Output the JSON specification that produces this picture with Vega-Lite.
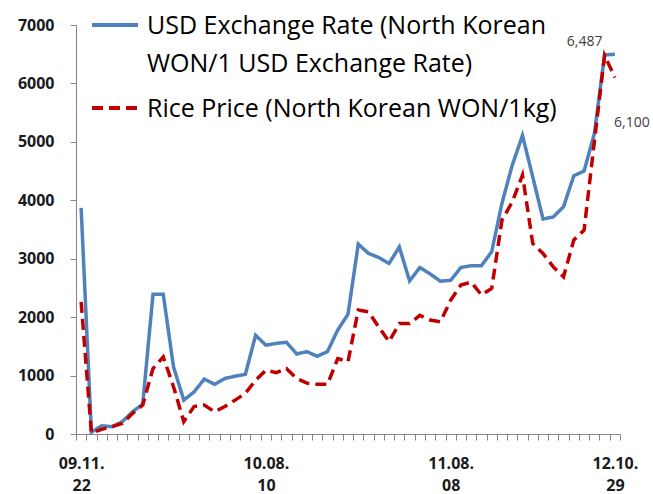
{
  "$schema": "https://vega.github.io/schema/vega-lite/v6.json",
  "width": 544,
  "height": 409,
  "autosize": {"type": "none"},
  "padding": {"left": 76, "top": 25, "right": 33, "bottom": 60},
  "background": "white",
  "config": {
    "view": {"stroke": null},
    "axis": {
      "labelFont": "Open Sans",
      "labelFontWeight": "bold",
      "labelFontSize": 16,
      "labelColor": "#1a1a1a",
      "domainColor": "#868686",
      "tickColor": "#868686",
      "grid": false
    }
  },
  "layer": [
    {
      "data": {
        "values": [
          {"i": 0, "usd": 3870, "rice": 2260},
          {"i": 1, "usd": 30, "rice": 20},
          {"i": 2, "usd": 140, "rice": 80},
          {"i": 3, "usd": 125, "rice": 125},
          {"i": 4, "usd": 210, "rice": 180},
          {"i": 5, "usd": 380, "rice": 350},
          {"i": 6, "usd": 510, "rice": 495},
          {"i": 7, "usd": 2390, "rice": 1120},
          {"i": 8, "usd": 2390, "rice": 1320},
          {"i": 9, "usd": 1150, "rice": 810},
          {"i": 10, "usd": 580, "rice": 210},
          {"i": 11, "usd": 720, "rice": 470},
          {"i": 12, "usd": 940, "rice": 495},
          {"i": 13, "usd": 850, "rice": 380},
          {"i": 14, "usd": 950, "rice": 470},
          {"i": 15, "usd": 990, "rice": 580},
          {"i": 16, "usd": 1020, "rice": 695},
          {"i": 17, "usd": 1690, "rice": 920},
          {"i": 18, "usd": 1520, "rice": 1090},
          {"i": 19, "usd": 1550, "rice": 1050},
          {"i": 20, "usd": 1570, "rice": 1120},
          {"i": 21, "usd": 1370, "rice": 950},
          {"i": 22, "usd": 1410, "rice": 870},
          {"i": 23, "usd": 1330, "rice": 850},
          {"i": 24, "usd": 1410, "rice": 850},
          {"i": 25, "usd": 1780, "rice": 1290},
          {"i": 26, "usd": 2050, "rice": 1240},
          {"i": 27, "usd": 3250, "rice": 2120},
          {"i": 28, "usd": 3090, "rice": 2090},
          {"i": 29, "usd": 3020, "rice": 1830},
          {"i": 30, "usd": 2920, "rice": 1580},
          {"i": 31, "usd": 3200, "rice": 1890},
          {"i": 32, "usd": 2620, "rice": 1890},
          {"i": 33, "usd": 2850, "rice": 2030},
          {"i": 34, "usd": 2740, "rice": 1950},
          {"i": 35, "usd": 2615, "rice": 1920},
          {"i": 36, "usd": 2630, "rice": 2290},
          {"i": 37, "usd": 2850, "rice": 2550},
          {"i": 38, "usd": 2880, "rice": 2600},
          {"i": 39, "usd": 2880, "rice": 2380},
          {"i": 40, "usd": 3120, "rice": 2490},
          {"i": 41, "usd": 3950, "rice": 3660},
          {"i": 42, "usd": 4600, "rice": 3970},
          {"i": 43, "usd": 5110, "rice": 4430},
          {"i": 44, "usd": 4400, "rice": 3260},
          {"i": 45, "usd": 3680, "rice": 3090},
          {"i": 46, "usd": 3715, "rice": 2860},
          {"i": 47, "usd": 3890, "rice": 2690},
          {"i": 48, "usd": 4420, "rice": 3320},
          {"i": 49, "usd": 4500, "rice": 3490},
          {"i": 50, "usd": 5140, "rice": 5000},
          {"i": 51, "usd": 6487, "rice": 6480},
          {"i": 52, "usd": 6500, "rice": 6100}
        ]
      },
      "transform": [{"fold": ["usd", "rice"], "as": ["series", "value"]}],
      "mark": {"type": "line", "strokeWidth": 3.5},
      "encoding": {
        "x": {
          "field": "i",
          "type": "quantitative",
          "title": null,
          "scale": {"domain": [-0.5, 52.5], "nice": false, "zero": false},
          "axis": {
            "orient": "bottom",
            "values": [-0.5, 0.5, 1.5, 2.5, 3.5, 4.5, 5.5, 6.5, 7.5, 8.5, 9.5, 10.5, 11.5, 12.5, 13.5, 14.5, 15.5, 16.5, 17.5, 18.5, 19.5, 20.5, 21.5, 22.5, 23.5, 24.5, 25.5, 26.5, 27.5, 28.5, 29.5, 30.5, 31.5, 32.5, 33.5, 34.5, 35.5, 36.5, 37.5, 38.5, 39.5, 40.5, 41.5, 42.5, 43.5, 44.5, 45.5, 46.5, 47.5, 48.5, 49.5, 50.5, 51.5, 52.5],
            "labels": false,
            "tickSize": 6
          }
        },
        "y": {
          "field": "value",
          "type": "quantitative",
          "title": null,
          "scale": {"domain": [0, 7000], "nice": false},
          "axis": {
            "values": [0, 1000, 2000, 3000, 4000, 5000, 6000, 7000],
            "format": "d",
            "tickSize": 6,
            "labelPadding": 16
          }
        },
        "color": {
          "field": "series",
          "type": "nominal",
          "scale": {"domain": ["usd", "rice"], "range": ["#4F81BD", "#C00000"]},
          "legend": {
            "orient": "none",
            "legendX": 14,
            "legendY": -25,
            "title": null,
            "padding": 0,
            "labelFont": "Open Sans",
            "labelFontSize": 25,
            "labelColor": "#000000",
            "labelLimit": 700,
            "labelOffset": 7,
            "labelBaseline": "alphabetic",
            "symbolType": "stroke",
            "symbolSize": 2116,
            "symbolStrokeWidth": 4,
            "rowPadding": 6,
            "labelExpr": "datum.value == 'usd' ? ['USD Exchange Rate (North Korean', 'WON/1 USD Exchange Rate)'] : 'Rice Price (North Korean WON/1kg)'",
            "encoding": {"labels": {"lineHeight": {"value": 38}, "dy": {"value": 9}}}
          }
        },
        "strokeDash": {
          "field": "series",
          "type": "nominal",
          "scale": {"domain": ["usd", "rice"], "range": [[1, 0], [11, 6]]}
        }
      }
    },
    {
      "data": {"values": [{"i": 51, "value": 6487, "lab": "6,487"}]},
      "mark": {"type": "text", "font": "Open Sans", "fontSize": 14, "color": "#404040", "dx": -20, "dy": -13},
      "encoding": {
        "x": {
          "field": "i",
          "type": "quantitative",
          "title": null,
          "axis": {
            "orient": "bottom",
            "values": [0, 18, 36, 52],
            "ticks": false,
            "domain": false,
            "tickSize": 0,
            "labelPadding": 21,
            "labelLineHeight": 22,
            "labelExpr": "datum.value == 0 ? ['09.11.', '22'] : datum.value == 18 ? ['10.08.', '10'] : datum.value == 36 ? ['11.08.', '08'] : ['12.10.', '29']"
          }
        },
        "y": {"field": "value", "type": "quantitative", "title": null},
        "text": {"field": "lab"}
      }
    },
    {
      "data": {"values": [{"i": 52, "value": 6100, "lab": "6,100"}]},
      "mark": {"type": "text", "font": "Open Sans", "fontSize": 14, "color": "#404040", "dx": 17, "dy": 45},
      "encoding": {
        "x": {"field": "i", "type": "quantitative", "title": null, "axis": null},
        "y": {"field": "value", "type": "quantitative", "title": null},
        "text": {"field": "lab"}
      }
    }
  ],
  "resolve": {"axis": {"x": "independent"}}
}
